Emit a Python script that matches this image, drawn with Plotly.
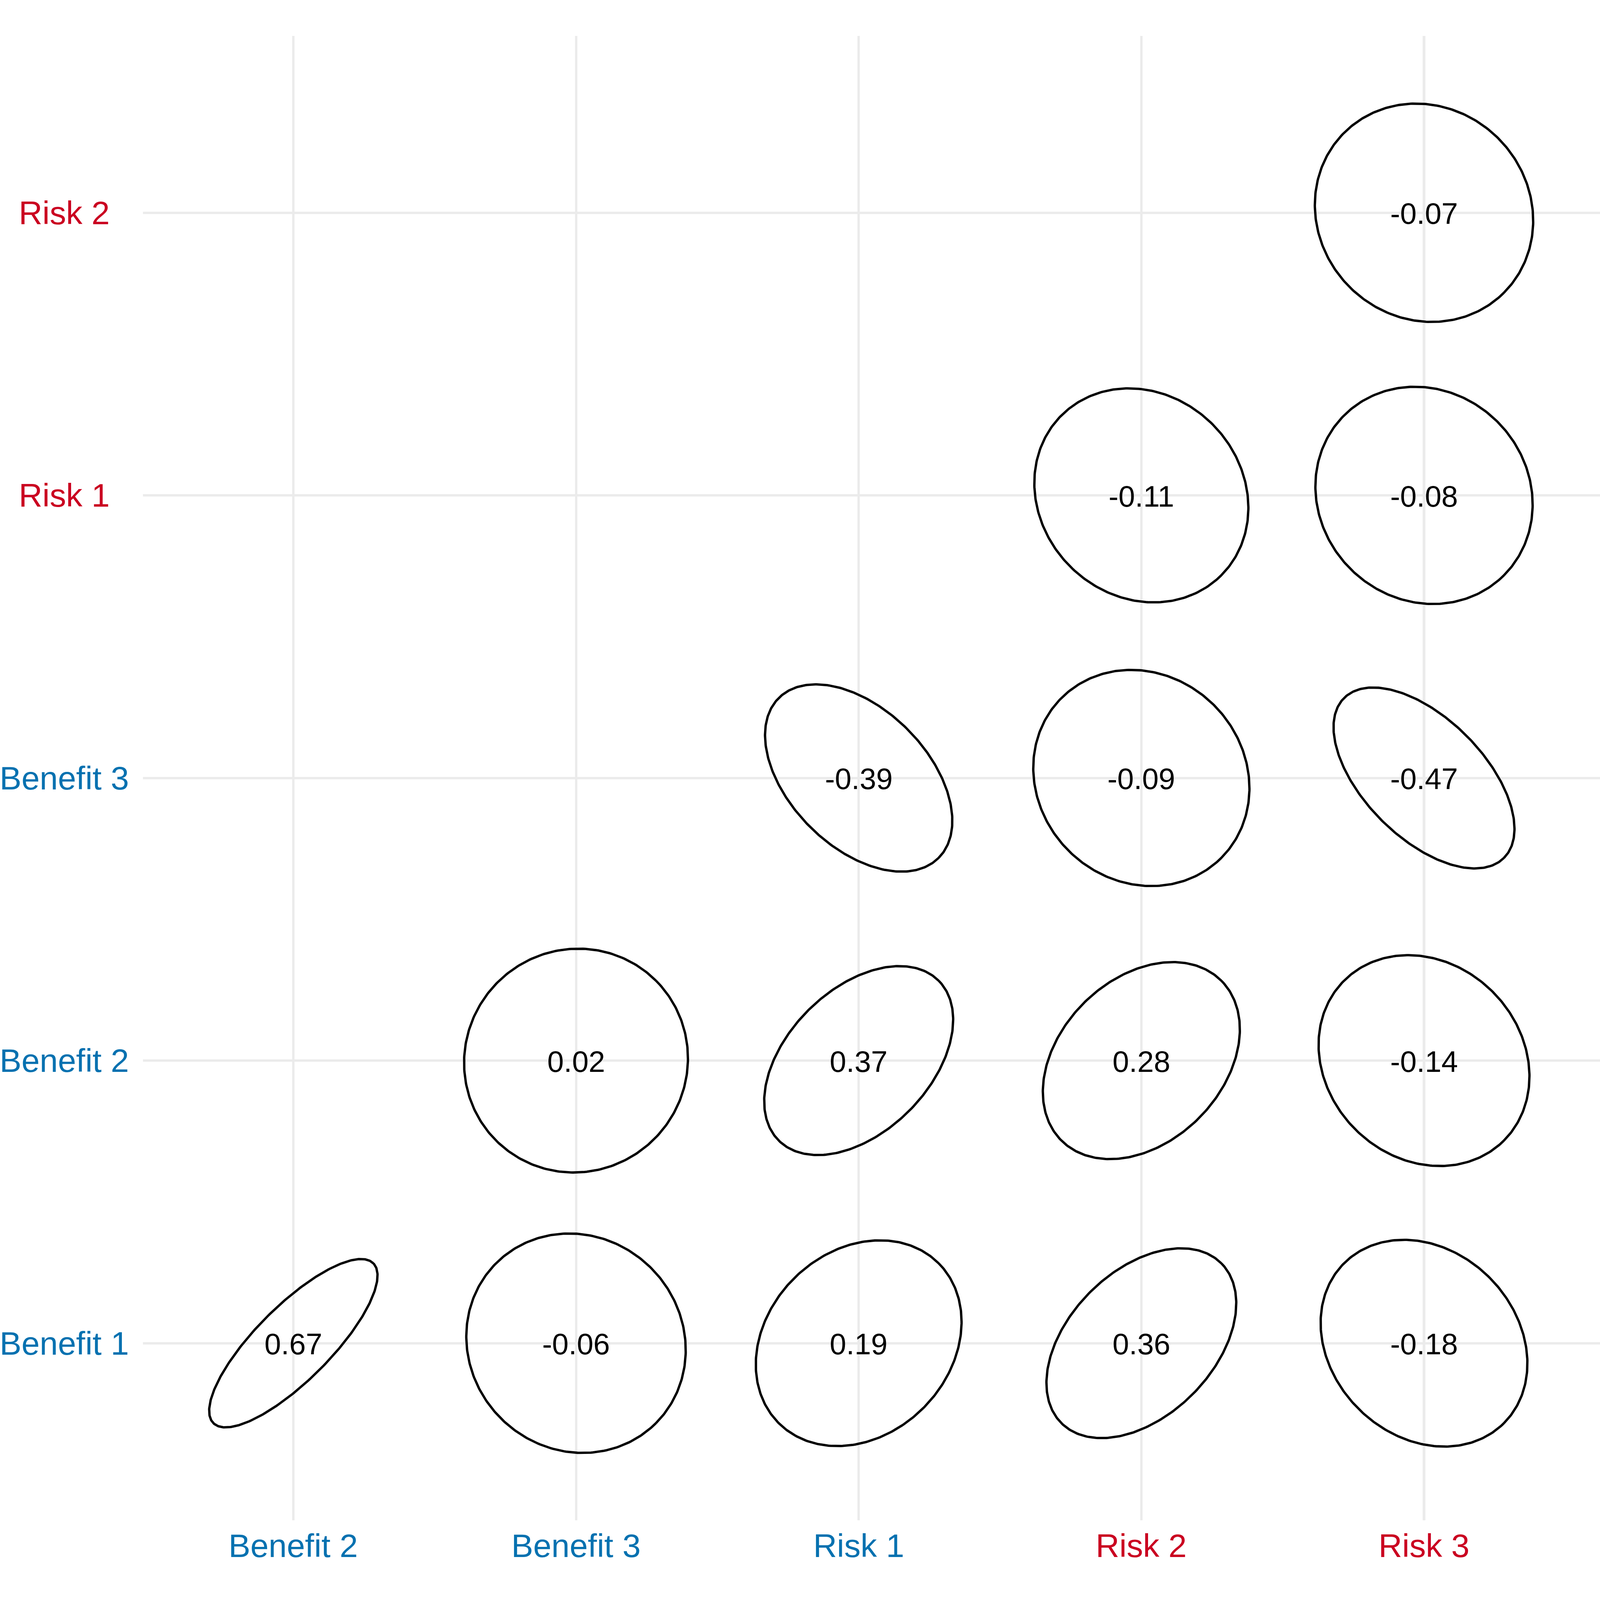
import numpy as np
import plotly.graph_objects as go

# ---- data ----
x_labels = ["Benefit 2", "Benefit 3", "Risk 1", "Risk 2", "Risk 3"]
y_labels = ["Benefit 1", "Benefit 2", "Benefit 3", "Risk 1", "Risk 2"]
x_label_colors = ["#0571B0", "#0571B0", "#0571B0", "#CA0020", "#CA0020"]
y_label_colors = ["#0571B0", "#0571B0", "#0571B0", "#CA0020", "#CA0020"]

# correlation cells: (column label, row label, value)
cell_x = ["Benefit 2", "Benefit 3", "Risk 1", "Risk 2", "Risk 3",
          "Benefit 3", "Risk 1", "Risk 2", "Risk 3",
          "Risk 1", "Risk 2", "Risk 3",
          "Risk 2", "Risk 3",
          "Risk 3"]
cell_y = ["Benefit 1", "Benefit 1", "Benefit 1", "Benefit 1", "Benefit 1",
          "Benefit 2", "Benefit 2", "Benefit 2", "Benefit 2",
          "Benefit 3", "Benefit 3", "Benefit 3",
          "Risk 1", "Risk 1",
          "Risk 2"]
cell_r = [0.67, -0.06, 0.19, 0.36, -0.18,
          0.02, 0.37, 0.28, -0.14,
          -0.39, -0.09, -0.47,
          -0.11, -0.08,
          -0.07]

# ---- figure ----
REF = 4200.0
W = H = 4096
K = W / REF
ML, MR, MT, MB = 375 * K, 0, 94 * K, 209 * K
FONT = "Liberation Sans, Arial, Helvetica, sans-serif"
RADIUS = 0.4

xpos = {lab: i + 1 for i, lab in enumerate(x_labels)}
ypos = {lab: i + 1 for i, lab in enumerate(y_labels)}

fig = go.Figure()

t = np.linspace(0, 2 * np.pi, 361)
for cx_lab, cy_lab, r in zip(cell_x, cell_y, cell_r):
    cx, cy = xpos[cx_lab], ypos[cy_lab]
    a = RADIUS
    b = RADIUS * (1 - abs(r))
    theta = np.pi / 4 if r >= 0 else -np.pi / 4
    u = a * np.cos(t)
    v = b * np.sin(t)
    ex = cx + u * np.cos(theta) - v * np.sin(theta)
    ey = cy + u * np.sin(theta) + v * np.cos(theta)
    fig.add_trace(go.Scatter(x=ex, y=ey, mode="lines",
                             line=dict(color="black", width=6.2 * K),
                             hoverinfo="skip", showlegend=False))

annotations = []
for cx_lab, cy_lab, r in zip(cell_x, cell_y, cell_r):
    annotations.append(dict(
        x=xpos[cx_lab], xref="x", y=ypos[cy_lab], yref="y",
        text=f"{r:.2f}", showarrow=False, xanchor="center", yanchor="middle",
        yshift=-2,
        font=dict(family=FONT, size=78 * K, color="black")))

for lab, col in zip(x_labels, x_label_colors):
    annotations.append(dict(
        x=xpos[lab], xref="x", y=(3991 - 4058) / (3991 - 94), yref="paper",
        text=lab, showarrow=False, xanchor="center", yanchor="middle",
        font=dict(family=FONT, size=86 * K, color=col)))
for lab, col in zip(y_labels, y_label_colors):
    annotations.append(dict(
        x=(168 - 375) / (4200 - 375), xref="paper", y=ypos[lab], yref="y",
        text=lab, showarrow=False, xanchor="center", yanchor="middle",
        font=dict(family=FONT, size=86 * K, color=col)))

fig.update_layout(
    width=W, height=H,
    margin=dict(l=ML, r=MR, t=MT, b=MB, pad=0),
    paper_bgcolor="white", plot_bgcolor="white",
    showlegend=False, hovermode=False,
    annotations=annotations,
    xaxis=dict(range=[0.468, 5.6226], tickvals=list(range(1, 6)),
               showticklabels=False, ticks="", showgrid=True,
               gridcolor="#EBEBEB", gridwidth=6.3 * K, zeroline=False,
               showline=False, fixedrange=True),
    yaxis=dict(range=[0.3733, 5.6257], tickvals=list(range(1, 6)),
               showticklabels=False, ticks="", showgrid=True,
               gridcolor="#EBEBEB", gridwidth=6.3 * K, zeroline=False,
               showline=False, fixedrange=True),
)

fig.write_html(
    "out.html",
    config={"staticPlot": True},
    post_script="document.body.style.margin='0';document.body.style.overflow='hidden';",
)
